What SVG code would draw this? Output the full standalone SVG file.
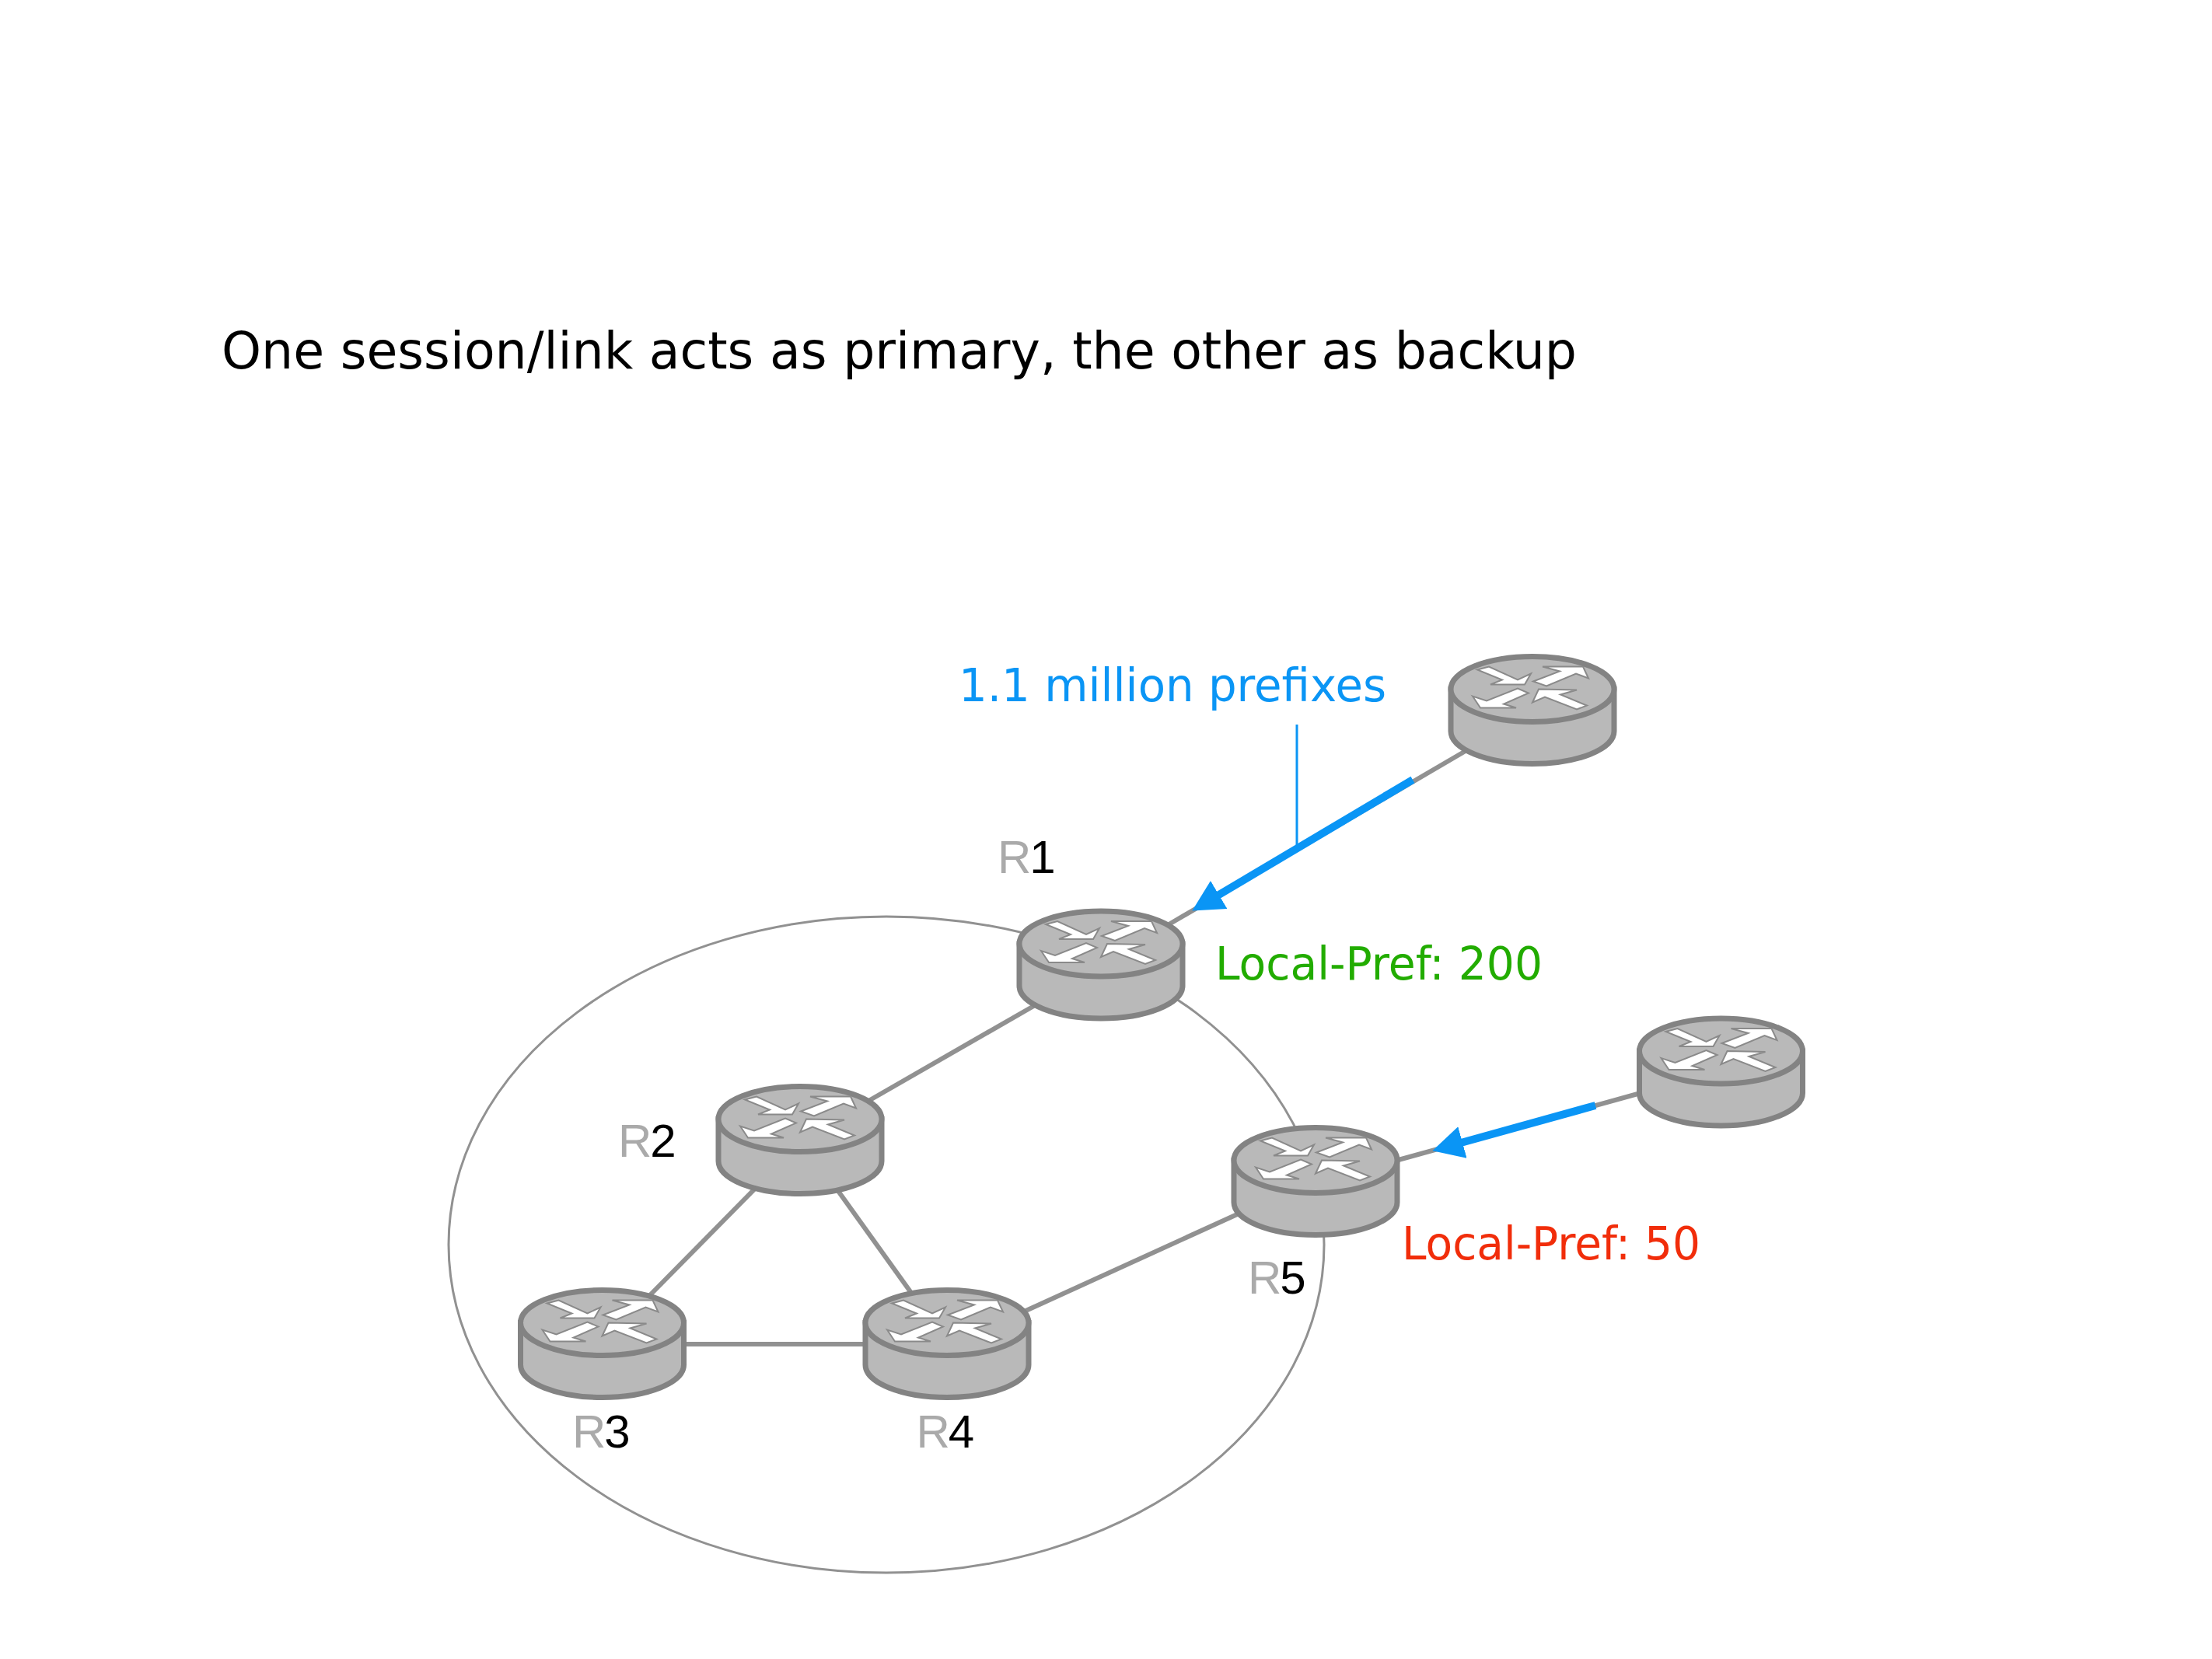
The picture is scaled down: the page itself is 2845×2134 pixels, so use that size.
<svg xmlns="http://www.w3.org/2000/svg" width="2845" height="2134" viewBox="0 0 2845 2134">
<style>
.title{font-family:"DejaVu Sans",sans-serif;font-size:66px;fill:#000}
.note{font-family:"DejaVu Sans",sans-serif;font-size:58px}
.rname{font-family:"Liberation Sans",Arial,sans-serif;font-size:60px;fill:#000;letter-spacing:-2px}
.rname .p{fill:#aaa}
.link{stroke:#919191;stroke-width:6;fill:none}
.thin{stroke:#919191;stroke-width:3;fill:none}
.body{fill:#b9b9b9;stroke:#838383;stroke-width:7}
.arrow{fill:#fff;stroke:#8a8a8a;stroke-width:2;stroke-linejoin:miter}
.flow{stroke:#0a95f5;stroke-width:10;fill:none}
</style>
<defs>
<g id="router">
<path class="body" d="M-105 0V54A105 42 0 0 0 105 54V0Z"/>
<ellipse class="body" cx="0" cy="0" rx="105" ry="42"/>
<path class="arrow" d="M-71-25L-56-29-19-12-2-20-10-6-54-6-39-12Z"/>
<path class="arrow" d="M1-10L35-23 13-29 65-29 72-14 56-20 18-4Z"/>
<path class="arrow" d="M-77 9L-67 24-21 24-37 19-5 5-19-1-59 15Z"/>
<path class="arrow" d="M0 17L8 0 57 1 36 7 70 21 57 26 16 10Z"/>
</g>
<marker id="tip" markerUnits="userSpaceOnUse" markerWidth="44" markerHeight="44" refX="2" refY="22" orient="auto">
<path d="M0 1L40 22 0 43Z" fill="#0a95f5"/>
</marker>
</defs>

<rect width="2845" height="2134" fill="#fff"/>
<text class="title" x="285" y="474" textLength="1743" lengthAdjust="spacingAndGlyphs">One session/link acts as primary, the other as backup</text>

<g id="connectors">
<ellipse class="thin" cx="1140" cy="1601" rx="563" ry="422"/>
<path class="link" d="M1340 1288L1105 1423"/>
<path class="link" d="M975 1525L830 1672"/>
<path class="link" d="M1073 1525L1177 1670"/>
<path class="link" d="M774 1729H1218"/>
<path class="link" d="M1315 1688L1600 1558"/>
<path class="link" d="M1500 1191L1890 963"/>
<path class="link" d="M1795 1493L2110 1406"/>
<path class="flow" d="M1817 1003L1566 1152" marker-end="url(#tip)"/>
<path class="flow" d="M2052 1422L1879 1470" marker-end="url(#tip)"/>
<path d="M1668 932V1090" stroke="#0a95f5" stroke-width="3" fill="none"/>
</g>

<g id="r1"><use href="#router" x="1416" y="1214"/><text class="rname" x="1283" y="1123" letter-spacing="-3"><tspan class="p">R</tspan>1</text></g>
<g id="r2"><use href="#router" x="1029" y="1439.500"/><text class="rname" x="795" y="1488"><tspan class="p">R</tspan>2</text></g>
<g id="r3"><use href="#router" x="774.500" y="1701.500"/><text class="rname" x="736" y="1862"><tspan class="p">R</tspan>3</text></g>
<g id="r4"><use href="#router" x="1218" y="1701.500"/><text class="rname" x="1178.500" y="1862"><tspan class="p">R</tspan>4</text></g>
<g id="r5"><use href="#router" x="1692" y="1492.500"/><text class="rname" x="1605" y="1664"><tspan class="p">R</tspan>5</text></g>
<g id="peer-top"><use href="#router" x="1971" y="886.500"/></g>
<g id="peer-right"><use href="#router" x="2213.500" y="1352"/></g>

<g id="labels">
<text class="note" x="1233" y="902" fill="#0a95f5" textLength="550" lengthAdjust="spacingAndGlyphs">1.1 million prefixes</text>
<text class="note" x="1563" y="1260" fill="#22ac00" textLength="421" lengthAdjust="spacingAndGlyphs">Local-Pref: 200</text>
<text class="note" x="1803" y="1620" fill="#f12d0a" textLength="384" lengthAdjust="spacingAndGlyphs">Local-Pref: 50</text>
</g>
</svg>
